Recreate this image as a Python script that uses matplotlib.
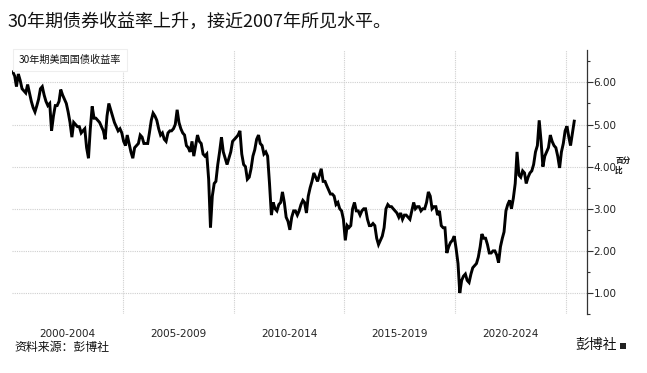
import matplotlib
matplotlib.use("Agg")
import matplotlib.pyplot as plt
import numpy as np
import pandas as pd
from matplotlib.patches import Rectangle

plt.rcParams['font.family'] = ['Noto Sans CJK SC', 'DejaVu Sans']

title = "30年期债券收益率上升，接近2007年所见水平。"
series_label = "30年期美国国债收益率"
source = "资料来源：彭博社"
brand = "彭博社"
unit = "百分\n比"

period_labels = ["2000-2004", "2005-2009", "2010-2014", "2015-2019", "2020-2024"]
period_centers = [2002.5, 2007.5, 2012.5, 2017.5, 2022.5]
year_grid = [2005, 2010, 2015, 2020, 2025]
y_ticks = [1.0, 2.0, 3.0, 4.0, 5.0, 6.0]

y2000 = [6.25, 6.15, 5.9, 6.2, 6.05, 5.85, 5.8, 5.75, 5.95, 5.75, 5.55, 5.4]
y2001 = [5.3, 5.45, 5.6, 5.85, 5.9, 5.7, 5.55, 5.45, 5.5, 4.85, 5.2, 5.45]
y2002 = [5.45, 5.55, 5.83, 5.7, 5.6, 5.5, 5.3, 5.05, 4.7, 5.05, 5.0, 4.95]
y2003 = [4.95, 4.8, 4.85, 4.9, 4.45, 4.2, 4.9, 5.43, 5.15, 5.15, 5.1, 5.05]
y2004 = [4.95, 4.85, 4.65, 5.2, 5.5, 5.35, 5.2, 5.05, 4.95, 4.85, 4.9, 4.8]
y2005 = [4.6, 4.5, 4.75, 4.55, 4.35, 4.2, 4.45, 4.5, 4.55, 4.75, 4.7, 4.55]
y2006 = [4.55, 4.55, 4.8, 5.1, 5.27, 5.2, 5.1, 4.9, 4.75, 4.8, 4.65, 4.6]
y2007 = [4.8, 4.85, 4.85, 4.9, 5.0, 5.35, 5.05, 4.9, 4.8, 4.75, 4.5, 4.45]
y2008 = [4.35, 4.6, 4.25, 4.5, 4.75, 4.6, 4.55, 4.3, 4.25, 4.3, 3.7, 2.55]
y2009 = [3.3, 3.6, 3.65, 4.05, 4.35, 4.7, 4.35, 4.2, 4.05, 4.2, 4.35, 4.6]
y2010 = [4.65, 4.7, 4.75, 4.85, 4.3, 4.05, 4.0, 3.7, 3.75, 3.95, 4.25, 4.4]
y2011 = [4.65, 4.75, 4.55, 4.5, 4.3, 4.35, 4.25, 3.6, 2.85, 3.15, 3.0, 2.95]
y2012 = [3.1, 3.15, 3.4, 3.15, 2.8, 2.7, 2.5, 2.8, 2.95, 2.95, 2.85, 2.95]
y2013 = [3.1, 3.2, 3.15, 2.9, 3.3, 3.5, 3.65, 3.85, 3.75, 3.65, 3.8, 3.95]
y2014 = [3.65, 3.65, 3.55, 3.45, 3.35, 3.35, 3.3, 3.1, 3.15, 3.0, 2.95, 2.75]
y2015 = [2.25, 2.6, 2.55, 2.6, 3.0, 3.15, 2.95, 2.95, 2.85, 2.95, 3.0, 3.0]
y2016 = [2.75, 2.6, 2.6, 2.65, 2.6, 2.3, 2.15, 2.25, 2.35, 2.55, 3.0, 3.1]
y2017 = [3.05, 3.05, 3.0, 2.95, 2.9, 2.8, 2.9, 2.75, 2.85, 2.85, 2.8, 2.75]
y2018 = [2.95, 3.15, 3.0, 3.05, 3.05, 2.95, 3.0, 3.0, 3.15, 3.4, 3.3, 3.0]
y2019 = [3.05, 3.05, 2.85, 2.95, 2.6, 2.55, 2.55, 1.95, 2.1, 2.2, 2.25, 2.35]
y2020 = [2.05, 1.7, 1.0, 1.3, 1.4, 1.45, 1.3, 1.25, 1.45, 1.6, 1.65, 1.7]
y2021 = [1.85, 2.1, 2.4, 2.3, 2.3, 2.15, 1.95, 1.95, 2.0, 2.0, 1.9, 1.72]
y2022 = [2.1, 2.3, 2.45, 2.95, 3.1, 3.2, 3.0, 3.25, 3.6, 4.35, 3.8, 3.75]
y2023 = [3.9, 3.85, 3.6, 3.75, 3.85, 3.9, 4.05, 4.35, 4.5, 5.1, 4.6, 4.0]
y2024 = [4.25, 4.35, 4.45, 4.75, 4.6, 4.5, 4.45, 4.25, 3.97, 4.35, 4.55, 4.85]
y2025 = [4.96, 4.7, 4.5, 4.8, 5.08]

yields = (y2000 + y2001 + y2002 + y2003 + y2004 + y2005 + y2006 + y2007 + y2008
          + y2009 + y2010 + y2011 + y2012 + y2013 + y2014 + y2015 + y2016
          + y2017 + y2018 + y2019 + y2020 + y2021 + y2022 + y2023 + y2024 + y2025)
dates = pd.date_range("2000-01-01", periods=len(yields), freq="MS") + pd.Timedelta(days=14)
xs = np.array([d.year + (d.dayofyear - 1) / 365.25 for d in dates])

fig = plt.figure(figsize=(6.47, 3.73), dpi=100)
ax = fig.add_axes([0.0185, 0.158, 0.888, 0.708])

ax.plot(xs, yields, color="black", lw=2.1, solid_joinstyle="miter")

ax.set_xlim(2000.0, 2025.92)
ax.set_ylim(0.5, 6.77)

for s in ["top", "left", "bottom"]:
    ax.spines[s].set_visible(False)
ax.spines["right"].set_color("#333333")
ax.spines["right"].set_linewidth(0.9)

ax.yaxis.tick_right()
ax.set_yticks(y_ticks)
ax.set_yticklabels([f"{v:.2f}" for v in y_ticks], fontsize=7.5, family="DejaVu Sans", color="#222222")
ax.set_yticks(np.arange(0.5, 6.8, 0.5), minor=True)
ax.tick_params(axis="y", which="major", length=4, width=0.8, color="#333333", pad=1.0)
ax.tick_params(axis="y", which="minor", length=2.5, width=0.8, color="#333333")

ax.set_xticks(year_grid)
ax.set_xticklabels([])
ax.tick_params(axis="x", which="major", length=0)
ax.set_xticks(period_centers, minor=True)
ax.set_xticklabels(period_labels, minor=True, fontsize=7.5, family="DejaVu Sans", color="#222222")
ax.tick_params(axis="x", which="minor", length=0, pad=11)

ax.grid(True, which="major", axis="both", color="#cfcfcf", linestyle=(0, (1, 1)), linewidth=0.8)
ax.set_axisbelow(True)

ax.text(0.012, 0.982, series_label, transform=ax.transAxes, fontsize=7.3, va="top", ha="left",
        color="#111111",
        bbox=dict(boxstyle="square,pad=0.6", facecolor="white", edgecolor="#eeeeee", linewidth=0.8),
        zorder=5)

fig.text(8 / 647, 1 - 22 / 373, title, fontsize=13, va="center", ha="left", color="#111111")
fig.text(14 / 647, 1 - 348 / 373, source, fontsize=8.6, va="center", ha="left", color="#111111")
fig.text(617 / 647, 1 - 345 / 373, brand, fontsize=10, va="center", ha="right", color="#111111")
fig.text(615 / 647, 1 - 165 / 373, unit, fontsize=5.5, va="center", ha="left", color="#111111",
         linespacing=1.1, fontweight="bold")
fig.patches.append(Rectangle((620 / 647, 1 - 349 / 373), 6 / 647, 6 / 373,
                             transform=fig.transFigure, facecolor="#222222", edgecolor="none"))

fig.savefig("out.png", dpi=100)
